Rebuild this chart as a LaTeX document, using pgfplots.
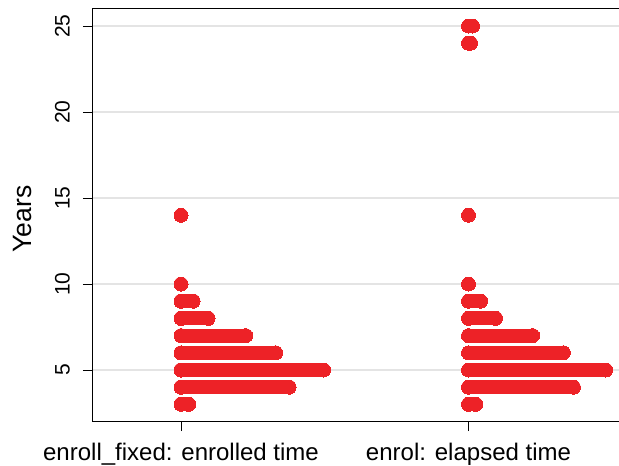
\documentclass[border=0pt]{standalone}
\usepackage{fontspec}
\setmainfont{Liberation Sans}
\usepackage{pgfplots}
\pgfplotsset{compat=1.18}
\definecolor{dotred}{RGB}{237,34,39}
\definecolor{gridgray}{RGB}{228,228,228}
\begin{document}
\begin{tikzpicture}
\begin{axis}[
  at={(0,0)}, anchor=south west,
  scale only axis,
  width=526pt, height=412pt,
  xmin=0.6939, xmax=2.5235,
  ymin=2.035, ymax=25.99,
  xtick={1,2},
  xticklabels={{enroll\_fixed: enrolled time},{enrol: elapsed time}},
  ytick={5,10,15,20,25},
  /pgf/number format/assume math mode=true,
  tick align=outside,
  xtick pos=bottom, ytick pos=left,
  major tick length=10pt,
  tick style={black, line width=0.9pt},
  axis line style={draw=none},
  ymajorgrids,
  grid style={gridgray, line width=1.5pt},
  yticklabel style={rotate=90, anchor=south, inner sep=0pt, font=\fontsize{21}{25}\selectfont},
  xticklabel style={anchor=north, inner sep=0pt, font=\fontsize{24}{28}\selectfont},
  yticklabel shift=13pt,
  xticklabel shift=11.5pt,
  ylabel={Years},
  every axis y label/.style={at={(rel axis cs:-0.116,0.49)}, rotate=90, anchor=south, inner sep=0pt, font=\fontsize{26.5}{30}\selectfont},
  dotrow/.style={color=dotred, line width=14pt, line cap=round, mark=*, mark size=7pt, mark options={line width=0pt, draw=none, fill=dotred}},
  clip=false,
]
% enroll_fixed: enrolled time (x = 1)
\addplot[dotrow] coordinates {(1,3) (1.027,3)};
\addplot[dotrow] coordinates {(1,4) (1.376,4)};
\addplot[dotrow] coordinates {(1,5) (1.496,5)};
\addplot[dotrow] coordinates {(1,6) (1.329,6)};
\addplot[dotrow] coordinates {(1,7) (1.225,7)};
\addplot[dotrow] coordinates {(1,8) (1.094,8)};
\addplot[dotrow] coordinates {(1,9) (1.042,9)};
\addplot[dotrow] coordinates {(1,10)};
\addplot[dotrow] coordinates {(1,14)};
% enrol: elapsed time (x = 2)
\addplot[dotrow] coordinates {(2,3) (2.025,3)};
\addplot[dotrow] coordinates {(2,4) (2.365,4)};
\addplot[dotrow] coordinates {(2,5) (2.477,5)};
\addplot[dotrow] coordinates {(2,6) (2.330,6)};
\addplot[dotrow] coordinates {(2,7) (2.223,7)};
\addplot[dotrow] coordinates {(2,8) (2.094,8)};
\addplot[dotrow] coordinates {(2,9) (2.042,9)};
\addplot[dotrow] coordinates {(2,10)};
\addplot[dotrow] coordinates {(2,14)};
\addplot[dotrow] coordinates {(2,24) (2.007,24)};
\addplot[dotrow] coordinates {(2,25) (2.014,25)};
\draw[black, line width=1pt] (rel axis cs:1,1) -- (rel axis cs:0,1) -- (rel axis cs:0,0) -- (rel axis cs:1,0);
\end{axis}
\pgfresetboundingbox
\path (-93pt,-45pt) rectangle (526pt,421pt);
\end{tikzpicture}
\end{document}
